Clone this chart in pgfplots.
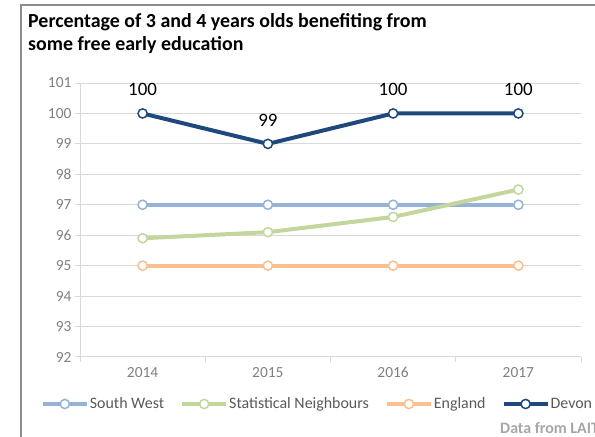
\documentclass[border=0pt]{standalone}
\usepackage{fontspec}
\setmainfont{Carlito}
\usepackage{pgfplots}
\pgfplotsset{compat=1.18}
\definecolor{sw}{HTML}{95B3D7}
\definecolor{sn}{HTML}{C3D69B}
\definecolor{en}{HTML}{FAC090}
\definecolor{dv}{HTML}{1F497D}
\definecolor{gridc}{HTML}{D9D9D9}
\definecolor{tickc}{HTML}{808080}
\definecolor{legc}{HTML}{595959}
\definecolor{framec}{HTML}{8C8C8C}
\definecolor{srcc}{HTML}{A6A6A6}
\begin{document}
\begin{tikzpicture}[x=1bp,y=1bp]
\useasboundingbox (0,0) rectangle (595,437);
\draw[color=framec, line width=1.5bp] (21,0) -- (21,432) -- (596,432);
\node[anchor=base west, inner sep=0pt, font=\fontsize{20}{24}\selectfont\bfseries] at (28,409)
  {Percentage of 3 and 4 years olds benefiting from};
\node[anchor=base west, inner sep=0pt, font=\fontsize{20}{24}\selectfont\bfseries] at (28,386)
  {some free early education};
\node[anchor=west, inner sep=0pt, text=srcc, font=\fontsize{16}{18}\selectfont\bfseries] at (500,9) {Data from LAIT};
\begin{axis}[
  at={(80bp,80bp)}, anchor=south west,
  scale only axis, width=501bp, height=274bp,
  xmin=-0.5, xmax=3.5, ymin=92, ymax=101,
  ytick={92,93,...,101},
  xtick={-0.5,0.5,1.5,2.5,3.5}, xticklabels={},
  extra x ticks={0,1,2,3},
  extra x tick labels={2014,2015,2016,2017},
  extra x tick style={major tick length=0pt},
  xticklabel style={yshift=-7bp},
  axis x line*=bottom, axis y line*=left,
  axis line style={gridc, line width=1bp, -},
  tick style={gridc, line width=1bp},
  major tick length=5bp, tick align=outside,
  ymajorgrids, grid style={gridc, line width=1bp},
  ticklabel style={text=tickc, font=\fontsize{15.5}{17}\selectfont},
  /pgf/number format/assume math mode=true,
  clip=false,
  legend columns=4,
  legend style={draw=none, fill=none, at={(0.473,-0.1715)}, anchor=center,
    font=\fontsize{16}{18}\selectfont, text=legc, inner sep=0pt,
    /tikz/every even column/.append style={column sep=15bp},
    nodes={inner sep=1bp}},
  legend image code/.code={\draw[mark repeat=2,mark phase=2] plot coordinates {(0bp,0bp)(22bp,0bp)(44bp,0bp)};},
  every axis plot/.append style={line width=4bp, mark=*, mark size=4.6bp},
]
\addplot[sw, mark options={fill=white, draw=sw, line width=1.5bp}] coordinates {(0,97) (1,97) (2,97) (3,97)};
\addlegendentry{South West}
\addplot[sn, mark options={fill=white, draw=sn, line width=1.5bp}] coordinates {(0,95.9) (1,96.1) (2,96.6) (3,97.5)};
\addlegendentry{Statistical Neighbours}
\addplot[en, mark options={fill=white, draw=en, line width=1.5bp}] coordinates {(0,95) (1,95) (2,95) (3,95)};
\addlegendentry{England}
\addplot[dv, mark options={fill=white, draw=dv, line width=1.5bp},
  nodes near coords,
  every node near coord/.append style={anchor=center, yshift=24bp, text=black, font=\fontsize{19}{21}\selectfont}]
  coordinates {(0,100) (1,99) (2,100) (3,100)};
\addlegendentry{Devon}
\end{axis}
\end{tikzpicture}
\end{document}
